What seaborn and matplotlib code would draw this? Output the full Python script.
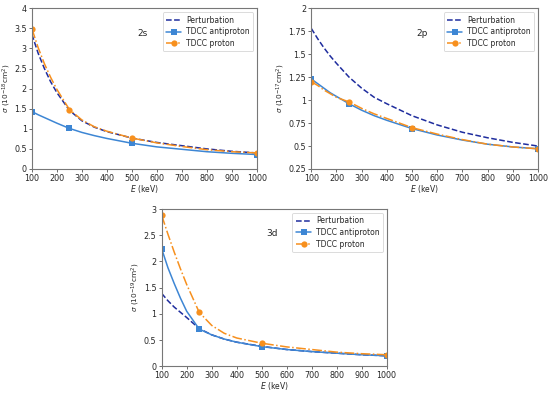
import numpy as np
import pandas as pd
import seaborn as sns
import matplotlib.pyplot as plt
from matplotlib.ticker import FuncFormatter

# energies (keV) where the curves were read; markers sit on the calculated points
energy = [100, 125, 150, 175, 200, 250, 300, 350, 400, 500, 600, 700, 800, 900, 1000]
mark_idx = [0, 5, 9, 14]  # 100, 250, 500, 1000 keV

# 2s (10^-18 cm^2)
pert_2s = [3.35, 2.88, 2.50, 2.17, 1.90, 1.46, 1.20, 1.04, 0.93, 0.77, 0.66, 0.58, 0.50, 0.44, 0.40]
anti_2s = [1.43, 1.35, 1.28, 1.21, 1.14, 1.01, 0.91, 0.83, 0.76, 0.64, 0.55, 0.49, 0.43, 0.39, 0.36]
prot_2s = [3.49, 3.02, 2.62, 2.28, 1.98, 1.48, 1.22, 1.05, 0.94, 0.77, 0.65, 0.56, 0.48, 0.43, 0.40]

# 2p (10^-17 cm^2)
pert_2p = [1.78, 1.67, 1.57, 1.48, 1.40, 1.25, 1.13, 1.03, 0.96, 0.83, 0.73, 0.65, 0.59, 0.54, 0.50]
anti_2p = [1.23, 1.18, 1.13, 1.08, 1.04, 0.96, 0.89, 0.83, 0.78, 0.69, 0.62, 0.565, 0.52, 0.49, 0.47]
prot_2p = [1.20, 1.16, 1.11, 1.07, 1.03, 0.98, 0.91, 0.85, 0.80, 0.70, 0.63, 0.57, 0.52, 0.49, 0.47]

# 3d (10^-19 cm^2)
pert_3d = [1.39, 1.25, 1.13, 1.03, 0.93, 0.72, 0.60, 0.52, 0.46, 0.38, 0.32, 0.28, 0.25, 0.22, 0.20]
anti_3d = [2.24, 1.88, 1.58, 1.30, 1.05, 0.71, 0.60, 0.52, 0.46, 0.375, 0.32, 0.28, 0.25, 0.22, 0.20]
prot_3d = [2.88, 2.52, 2.18, 1.86, 1.56, 1.03, 0.78, 0.63, 0.54, 0.44, 0.37, 0.32, 0.27, 0.24, 0.22]

panels = [
    ('2s', pert_2s, anti_2s, prot_2s, '-18', (0, 4), np.arange(0, 4.01, 0.5)),
    ('2p', pert_2p, anti_2p, prot_2p, '-17', (0.25, 2), np.arange(0.25, 2.01, 0.25)),
    ('3d', pert_3d, anti_3d, prot_3d, '-19', (0, 3), np.arange(0, 3.01, 0.5)),
]

c_pert = '#1f2d9e'
c_anti = '#3d86d4'
c_prot = '#f7901e'

sns.set_theme(style='ticks')
plt.rcParams['font.family'] = ['DejaVu Sans']

fig = plt.figure(figsize=(5.5, 3.93), dpi=100)
axes = [
    fig.add_axes([0.058, 0.570, 0.409, 0.409]),
    fig.add_axes([0.566, 0.570, 0.412, 0.409]),
    fig.add_axes([0.294, 0.068, 0.409, 0.400]),
]

for ax, (name, pert, anti, prot, exp, ylim, yticks) in zip(axes, panels):
    df = pd.DataFrame({'E': energy, 'pert': pert, 'anti': anti, 'prot': prot})
    sns.lineplot(data=df, x='E', y='pert', ax=ax, color=c_pert, linestyle='--',
                 linewidth=1.1, label='Perturbation')
    sns.lineplot(data=df, x='E', y='anti', ax=ax, color=c_anti, linestyle='-',
                 linewidth=1.1, marker='s', markersize=4, markevery=mark_idx,
                 markeredgewidth=0, label='TDCC antiproton')
    sns.lineplot(data=df, x='E', y='prot', ax=ax, color=c_prot, linestyle='-.',
                 linewidth=1.1, marker='o', markersize=4.5, markevery=mark_idx,
                 markeredgewidth=0, label='TDCC proton')

    ax.set_xlim(100, 1000)
    ax.set_ylim(*ylim)
    ax.set_xticks(range(100, 1001, 100))
    ax.set_yticks(yticks)
    ax.yaxis.set_major_formatter(FuncFormatter(lambda v, p: '{:g}'.format(round(v, 2))))
    ax.tick_params(labelsize=5.8, length=2.5, width=0.6, pad=1.2, color='#555555')
    for sp in ax.spines.values():
        sp.set_color('#777777')
        sp.set_linewidth(0.8)
    ax.set_xlabel('$E$ (keV)', fontsize=5.5, labelpad=0)
    ax.set_ylabel('$\\sigma$ (10$^{' + exp + '}$cm$^{2}$)', fontsize=5.3, labelpad=1)
    ax.text(0.49, 0.845, name, transform=ax.transAxes, fontsize=6.5, ha='center', va='center')
    leg = ax.legend(loc='upper right', fontsize=5.5, frameon=True, handlelength=2.0,
                    borderpad=0.45, labelspacing=0.35, handletextpad=0.6, borderaxespad=0.5)
    leg.get_frame().set_edgecolor('#cccccc')
    leg.get_frame().set_linewidth(0.6)

fig.savefig('out.png', dpi=100)
